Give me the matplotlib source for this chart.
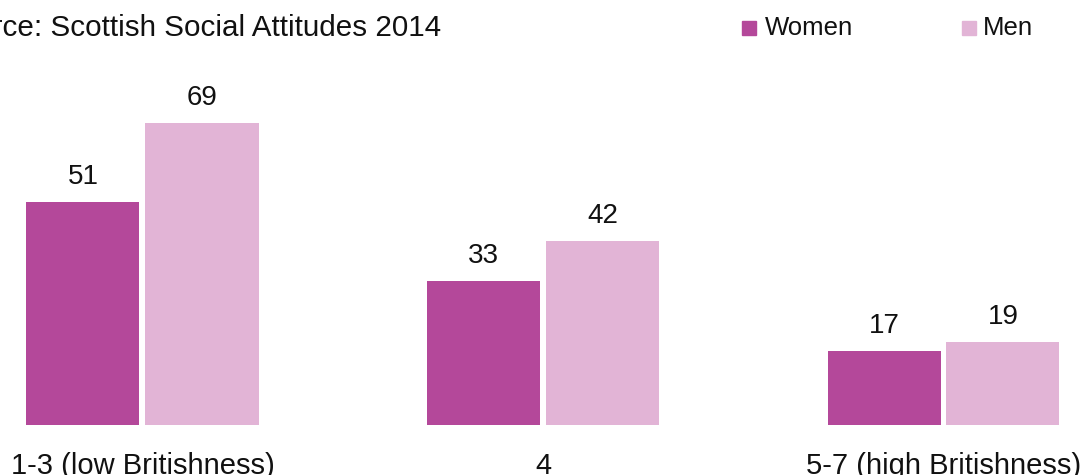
import matplotlib.pyplot as plt
import numpy as np
from matplotlib.patches import Rectangle

plt.rcParams['font.family'] = ['Liberation Sans', 'DejaVu Sans']

categories = ['1-3 (low Britishness)', '4', '5-7 (high Britishness)']
series_names = ['Women', 'Men']
women = [51, 33, 17]
men = [69, 42, 19]
colors = ['#B4489A', '#E2B4D6']

W, H = 1084, 475
fig = plt.figure(figsize=(W / 100, H / 100), dpi=100)

# axes: bottom of bars at 425px from top, x spacing 400.5px per group
ax = fig.add_axes([0, 50 / H, 1, 1 - 50 / H])
sp = 400.5
ax.set_xlim(-142.5 / sp, (W - 142.5) / sp)
ax.set_ylim(0, 425 / 4.377)
ax.axis('off')

x = np.arange(len(categories))
bw = 113 / sp
off = 59.5 / sp
for vals, xs, c in [(women, x - off, colors[0]), (men, x + off, colors[1])]:
    bars = ax.bar(xs, vals, width=bw, color=c, edgecolor='none')
    for b, v in zip(bars, vals):
        ax.annotate(str(v), (b.get_x() + b.get_width() / 2, v),
                    xytext=(0, 13), textcoords='offset points',
                    ha='center', va='baseline', fontsize=20, color='#111111')

trans = ax.get_xaxis_transform()
for xi, lab in zip(x, categories):
    ax.text(xi, -49 / 425, lab, transform=trans, ha='center', va='baseline',
            fontsize=21, color='#111111')

# source line, cropped on the left like the original
fig.text(-60 / W, 1 - 36 / H, 'Source: Scottish Social Attitudes 2014',
         ha='left', va='baseline', fontsize=21.3, color='#111111')

# legend
for name, c, sx, tx in [(series_names[0], colors[0], 742, 765),
                        (series_names[1], colors[1], 962, 983)]:
    fig.patches.append(Rectangle((sx / W, 1 - 35 / H), 14 / W, 14 / H,
                                 transform=fig.transFigure, color=c))
    fig.text(tx / W, 1 - 35 / H, name, ha='left', va='baseline',
             fontsize=18.5, color='#111111')

fig.savefig('out.png', dpi=100)
